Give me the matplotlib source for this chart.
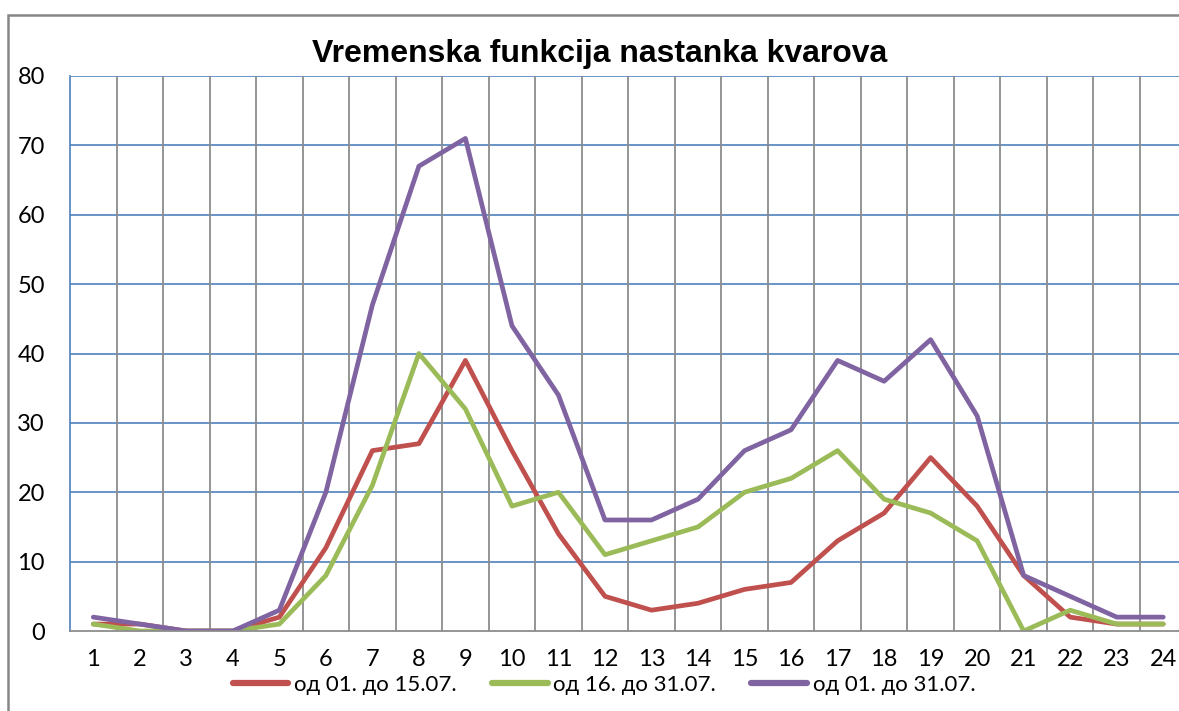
import matplotlib
matplotlib.use("Agg")
import matplotlib.pyplot as plt
from matplotlib.patches import Rectangle

hours = list(range(1, 25))
series_1_15 = [1, 1, 0, 0, 2, 12, 26, 27, 39, 26, 14, 5, 3, 4, 6, 7, 13, 17, 25, 18, 8, 2, 1, 1]
series_16_31 = [1, 0, 0, 0, 1, 8, 21, 40, 32, 18, 20, 11, 13, 15, 20, 22, 26, 19, 17, 13, 0, 3, 1, 1]
series_1_31 = [2, 1, 0, 0, 3, 20, 47, 67, 71, 44, 34, 16, 16, 19, 26, 29, 39, 36, 42, 31, 8, 5, 2, 2]
labels = ["од 01. до 15.07.", "од 16. до 31.07.", "од 01. до 31.07."]
colors = ["#C0504D", "#9BBB59", "#8064A2"]
title = "Vremenska funkcija nastanka kvarova"
yticks = [0, 10, 20, 30, 40, 50, 60, 70, 80]

W, H = 1179, 711
fig = plt.figure(figsize=(W / 100, H / 100), dpi=100)
left, right, top, bottom = 70, 1186.5, 76, 631
ax = fig.add_axes([left / W, 1 - bottom / H, (right - left) / W, (bottom - top) / H])

tick_font = "Lato"
for vals, lab, c in zip([series_1_15, series_16_31, series_1_31], labels, colors):
    ax.plot(hours, vals, color=c, lw=3.4, label=lab, solid_capstyle="round", solid_joinstyle="round")

ax.set_xlim(0.5, 24.5)
ax.set_ylim(0, 80)
ax.set_yticks(yticks)
ax.set_xticks(hours)
ax.set_xticklabels([str(h) for h in hours], fontsize=17, family=tick_font)
ax.set_yticklabels([str(v) for v in yticks], fontsize=17, family=tick_font)
ax.tick_params(axis="both", length=0)
ax.tick_params(axis="x", pad=13)
ax.tick_params(axis="y", pad=18)

# grid
for v in yticks[1:]:
    ax.axhline(v, color="#4F81BD", lw=1.2, zorder=0.5)
for b in range(1, 25):
    ax.axvline(b + 0.5, color="#8C8C8C", lw=1.3, zorder=0.5)
for s in ["top", "right"]:
    ax.spines[s].set_visible(False)
ax.spines["left"].set_color("#4F81BD")
ax.spines["left"].set_linewidth(1.2)
ax.spines["bottom"].set_color("#8C8C8C")
ax.spines["bottom"].set_linewidth(1.3)

fig.text(600 / W, 1 - 54 / H, title, ha="center", va="center", fontsize=23,
         fontweight="bold", family="Liberation Sans")

leg = fig.legend(loc="center", bbox_to_anchor=(604 / W, 1 - 685 / H), ncol=3, frameon=False,
                 prop={"family": tick_font, "size": 16}, handlelength=2.5,
                 handletextpad=0.25, columnspacing=1.6, borderaxespad=0)
for line in leg.get_lines():
    line.set_linewidth(4.5)

fig.patches.append(Rectangle((8 / W, -0.1), 1.2, (H - 15) / H + 0.1, transform=fig.transFigure,
                             fill=False, edgecolor="#868686", lw=1.8, figure=fig))

fig.savefig("out.png", dpi=100)
